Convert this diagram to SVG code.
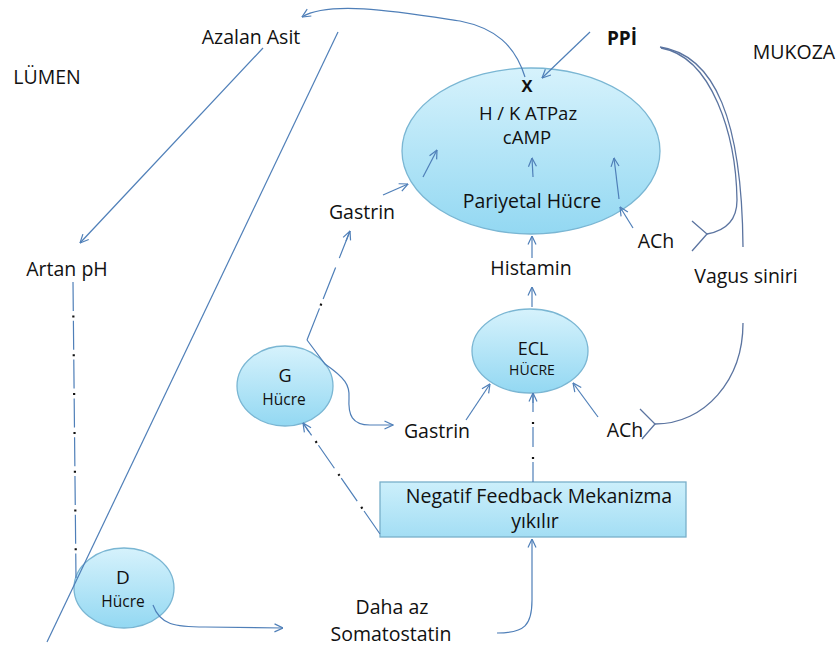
<svg xmlns="http://www.w3.org/2000/svg" width="836" height="648" viewBox="0 0 836 648">
<defs>
<linearGradient id="cell" x1="0" y1="0" x2="0" y2="1">
<stop offset="0" stop-color="#d6f2fc"/>
<stop offset="1" stop-color="#93d8f2"/>
</linearGradient>
<linearGradient id="boxg" x1="0" y1="0" x2="0" y2="1">
<stop offset="0" stop-color="#ccefFb"/>
<stop offset="1" stop-color="#a3def4"/>
</linearGradient>
<marker id="ah" viewBox="0 0 10 10" refX="9.5" refY="5" markerWidth="10" markerHeight="10" orient="auto" markerUnits="userSpaceOnUse">
<path d="M1,1 L9.5,5 L1,9" fill="none" stroke="#4f7fb8" stroke-width="1.2"/>
</marker>
<style>
text{font-family:"Open Sans","Noto Sans","Liberation Sans",sans-serif;fill:#111;text-anchor:middle}
.t{font-size:19.5px}
.s{font-size:14.5px}
.b{font-weight:bold}
.cell{fill:url(#cell);stroke:#7ab6d3;stroke-width:1.3}
.ln{fill:none;stroke:#4f7fb8;stroke-width:1.2}
.ar{marker-end:url(#ah)}
.vg{fill:none;stroke:#5b74a0;stroke-width:1.3}
.dot{fill:none;stroke:#111;stroke-width:2.2}
</style>
</defs>
<rect width="836" height="648" fill="#fff"/>

<g id="labels">
<text class="t" x="251" y="44">Azalan Asit</text>
<text class="t" x="47" y="84">LÜMEN</text>
<text class="t" x="67" y="276">Artan pH</text>
<text class="t b" x="622" y="45" style="font-size:19px">PPİ</text>
<text class="t" x="794" y="59">MUKOZA</text>
<text class="t" x="746" y="283">Vagus siniri</text>
<text class="t" x="362" y="219">Gastrin</text>
<text class="t" x="656" y="248">ACh</text>
<text class="t" x="531" y="275">Histamin</text>
<text class="t" x="437" y="438">Gastrin</text>
<text class="t" x="625" y="437">ACh</text>
<text class="t" x="392" y="614">Daha az</text>
<text class="t" x="391" y="641">Somatostatin</text>
</g>

<g id="parietal">
<ellipse class="cell" cx="531" cy="151" rx="129" ry="83"/>
<text class="b" x="527" y="92" style="font-size:16.5px">X</text>
<text x="528" y="120" style="font-size:18.5px">H / K ATPaz</text>
<text x="527" y="144" style="font-size:18.5px">cAMP</text>
<text class="t" x="532" y="208">Pariyetal Hücre</text>
</g>

<g id="ecl">
<ellipse class="cell" cx="530" cy="351" rx="58" ry="42"/>
<text x="533" y="355" style="font-size:18px">ECL</text>
<text class="s" x="532" y="375" style="font-size:14px">HÜCRE</text>
</g>

<g id="gcell">
<ellipse class="cell" cx="285" cy="386" rx="48" ry="40"/>
<text x="285" y="382" style="font-size:18px">G</text>
<text class="s" x="284" y="405" style="font-size:15.5px">Hücre</text>
</g>

<g id="dcell">
<ellipse class="cell" cx="124" cy="588" rx="50" ry="40"/>
<text x="123" y="584" style="font-size:19px">D</text>
<text class="s" x="123" y="607" style="font-size:15.5px">Hücre</text>
</g>

<g id="feedback">
<rect x="380" y="482" width="306" height="55" fill="url(#boxg)" stroke="#78afca" stroke-width="1.3"/>
<text x="539" y="503" style="font-size:19.5px">Negatif Feedback Mekanizma</text>
<text x="535" y="528" style="font-size:19.5px">yıkılır</text>
</g>

<g id="connectors">
<path class="ln ar" d="M525 77 C515 45,495 28,460 21 C400 12,330 0,302 17"/>
<path class="ln ar" d="M263 48 L80 243"/>
<path class="ln" d="M338 32 L47 642"/>
<path class="ln ar" d="M590 32 L542 78"/>
<path class="ln ar" d="M423 177 L437 150"/>
<path class="ln ar" d="M533 177 L532 158"/>
<path class="ln ar" d="M619 199 L614 158"/>
<path class="ln ar" d="M633 228 L620 207"/>
<path class="ln ar" d="M383 195 L408 184"/>
<path class="ln ar" d="M532 258 L532 236"/>
<path class="ln ar" d="M532 307 L532 287"/>
<path class="ln ar" d="M466 420 L490 384"/>
<path class="ln ar" d="M598 417 L573 383"/>
<path class="ln ar" d="M497 633 C525 633,532 625,532 600 L532 539"/>
<path class="ln ar" d="M153 605 C160 625,175 627,205 627 L283 628"/>
<path class="ln ar" d="M307 340 L325 364 C345 378,350 385,349 398 C348 415,352 425,370 425 L393 425"/>

<path class="ln" d="M73 282 L76 578" stroke-dasharray="29 9.8"/>
<path class="dot" d="M73 282 L76 578" stroke-dasharray="0 33.5 2 3.3"/>

<path class="ln" d="M307 340 L350 231" stroke-dasharray="34 10"/>
<path class="ln ar" d="M346 241 L350 231"/>
<path class="dot" d="M307 340 L350 231" stroke-dasharray="0 37 2 5 0 44 0 80"/>

<path class="ln" d="M380 534 L303 423" stroke-dasharray="28 12"/>
<path class="ln ar" d="M309 432 L303 423"/>
<path class="dot" d="M380 534 L303 423" stroke-dasharray="0 31 2 38 2 38 2 60"/>

<path class="ln" d="M533 482 L533 393" stroke-dasharray="20 15"/>
<path class="ln ar" d="M533 403 L533 393"/>
<path class="dot" d="M533 482 L533 393" stroke-dasharray="0 23 2 33 2 60"/>

<path class="vg" d="M660 47 C715 55,742 120,743 247"/>
<path class="vg" d="M661 48 C712 57,736 135,737 200 C737 222,724 231,707 234"/>
<path class="vg" d="M692 221 L707 234 L692 251"/>
<path class="vg" d="M743 323 C743 380,705 424,655 424"/>
<path class="vg" d="M640 409 L655 424 L642 439"/>
</g>
</svg>
